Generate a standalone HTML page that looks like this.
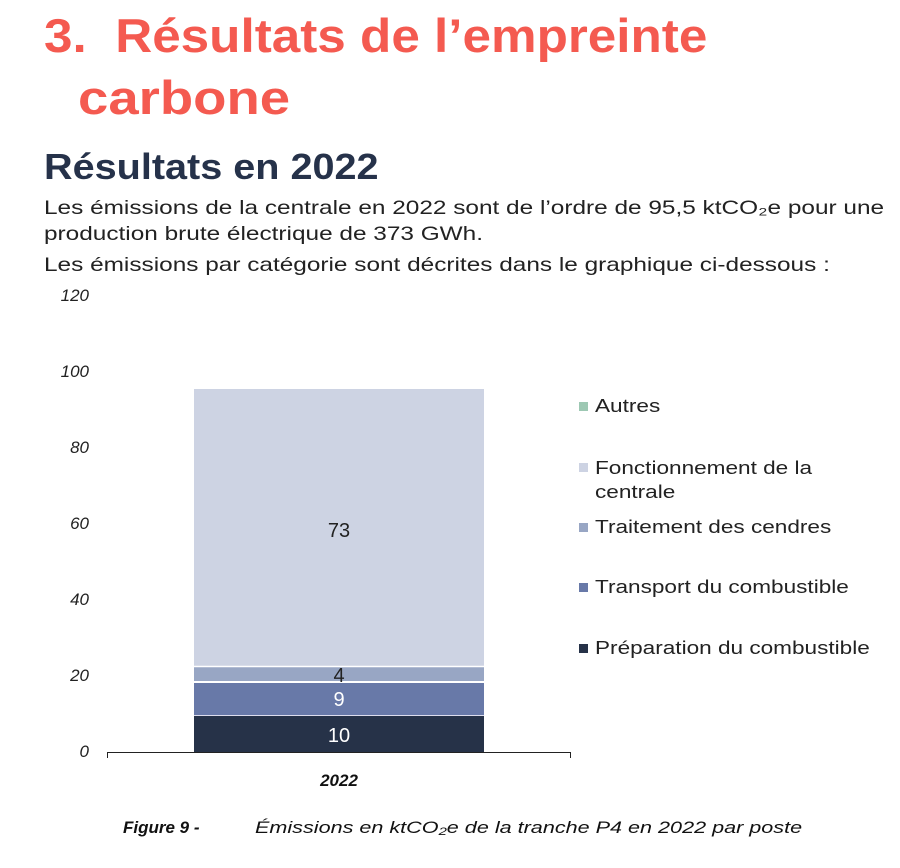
<!DOCTYPE html>
<html><head><meta charset="utf-8"><style>
body{margin:0;width:900px;height:868px;background:#fff;font-family:"Liberation Sans",sans-serif;position:relative;overflow:hidden}
.a{position:absolute;white-space:nowrap;transform-origin:0 0}
.t{color:#f45a50;font-weight:bold;font-size:47px}
.h{color:#26324a;font-weight:bold;font-size:36px;transform:scaleX(1.1)}
.p{color:#222;font-size:19.5px;transform:scaleX(1.25)}
.yl{font-style:italic;font-size:17px;color:#222;width:40px;text-align:right;left:49px}
.lg{font-size:18.5px;color:#222;transform:scaleX(1.22)}
.sq{position:absolute;width:9px;height:9px}
</style></head><body>
<div class="a t" style="left:44px;top:8px;transform:scaleX(1.09)">3.&nbsp; Résultats de l’empreinte</div>
<div class="a t" style="left:78px;top:70px;transform:scaleX(1.16)">carbone</div>
<div class="a h" style="left:44px;top:146px">Résultats en 2022</div>
<div class="a p" style="left:44px;top:197px">Les émissions de la centrale en 2022 sont de l’ordre de 95,5 ktCO₂e pour une</div>
<div class="a p" style="left:44px;top:223px">production brute électrique de 373 GWh.</div>
<div class="a p" style="left:44px;top:254px">Les émissions par catégorie sont décrites dans le graphique ci-dessous :</div>
<div class="a yl" style="top:286px">120</div>
<div class="a yl" style="top:362px">100</div>
<div class="a yl" style="top:438px">80</div>
<div class="a yl" style="top:514px">60</div>
<div class="a yl" style="top:590px">40</div>
<div class="a yl" style="top:666px">20</div>
<div class="a yl" style="top:742px">0</div>
<svg class="a" style="left:0;top:0" width="900" height="868">
<rect x="194" y="389" width="290" height="277" fill="#cdd3e3"/>
<rect x="194" y="667" width="290" height="14" fill="#98a6c4"/>
<rect x="194" y="683" width="290" height="32" fill="#6879a8"/>
<rect x="194" y="716" width="290" height="36" fill="#263248"/>
<line x1="194" y1="666.5" x2="484" y2="666.5" stroke="#fff" stroke-width="1.5"/>
<line x1="194" y1="682" x2="484" y2="682" stroke="#fff" stroke-width="1.5"/>
<line x1="194" y1="715.5" x2="484" y2="715.5" stroke="#dde" stroke-width="1"/>
<line x1="107" y1="752.5" x2="571" y2="752.5" stroke="#222" stroke-width="1"/>
<line x1="107.5" y1="752" x2="107.5" y2="758" stroke="#222"/>
<line x1="570.5" y1="752" x2="570.5" y2="758" stroke="#222"/>
<g font-family="Liberation Sans" font-size="20" text-anchor="middle">
<text x="339" y="537" fill="#222">73</text>
<text x="339" y="682" fill="#222">4</text>
<text x="339" y="706" fill="#fff">9</text>
<text x="339" y="742" fill="#fff">10</text>
</g>
<text x="339" y="786" font-family="Liberation Sans" font-size="17" font-weight="bold" font-style="italic" text-anchor="middle" fill="#111">2022</text>
</svg>
<div class="sq" style="left:579px;top:402px;background:#9dc8b3"></div>
<div class="a lg" style="left:595px;top:395px">Autres</div>
<div class="sq" style="left:579px;top:463px;background:#cdd3e3"></div>
<div class="a lg" style="left:595px;top:456px;line-height:24px">Fonctionnement de la<br>centrale</div>
<div class="sq" style="left:579px;top:523px;background:#98a6c4"></div>
<div class="a lg" style="left:595px;top:516px">Traitement des cendres</div>
<div class="sq" style="left:579px;top:583px;background:#6879a8"></div>
<div class="a lg" style="left:595px;top:576px">Transport du combustible</div>
<div class="sq" style="left:579px;top:644px;background:#263248"></div>
<div class="a lg" style="left:595px;top:637px">Préparation du combustible</div>
<div class="a" style="left:123px;top:818px;font-size:17px;font-style:italic;font-weight:bold;color:#111">Figure 9 -</div>
<div class="a" style="left:255px;top:818px;font-size:17px;font-style:italic;color:#111;transform:scaleX(1.27)">Émissions en ktCO₂e de la tranche P4 en 2022 par poste</div>
</body></html>
